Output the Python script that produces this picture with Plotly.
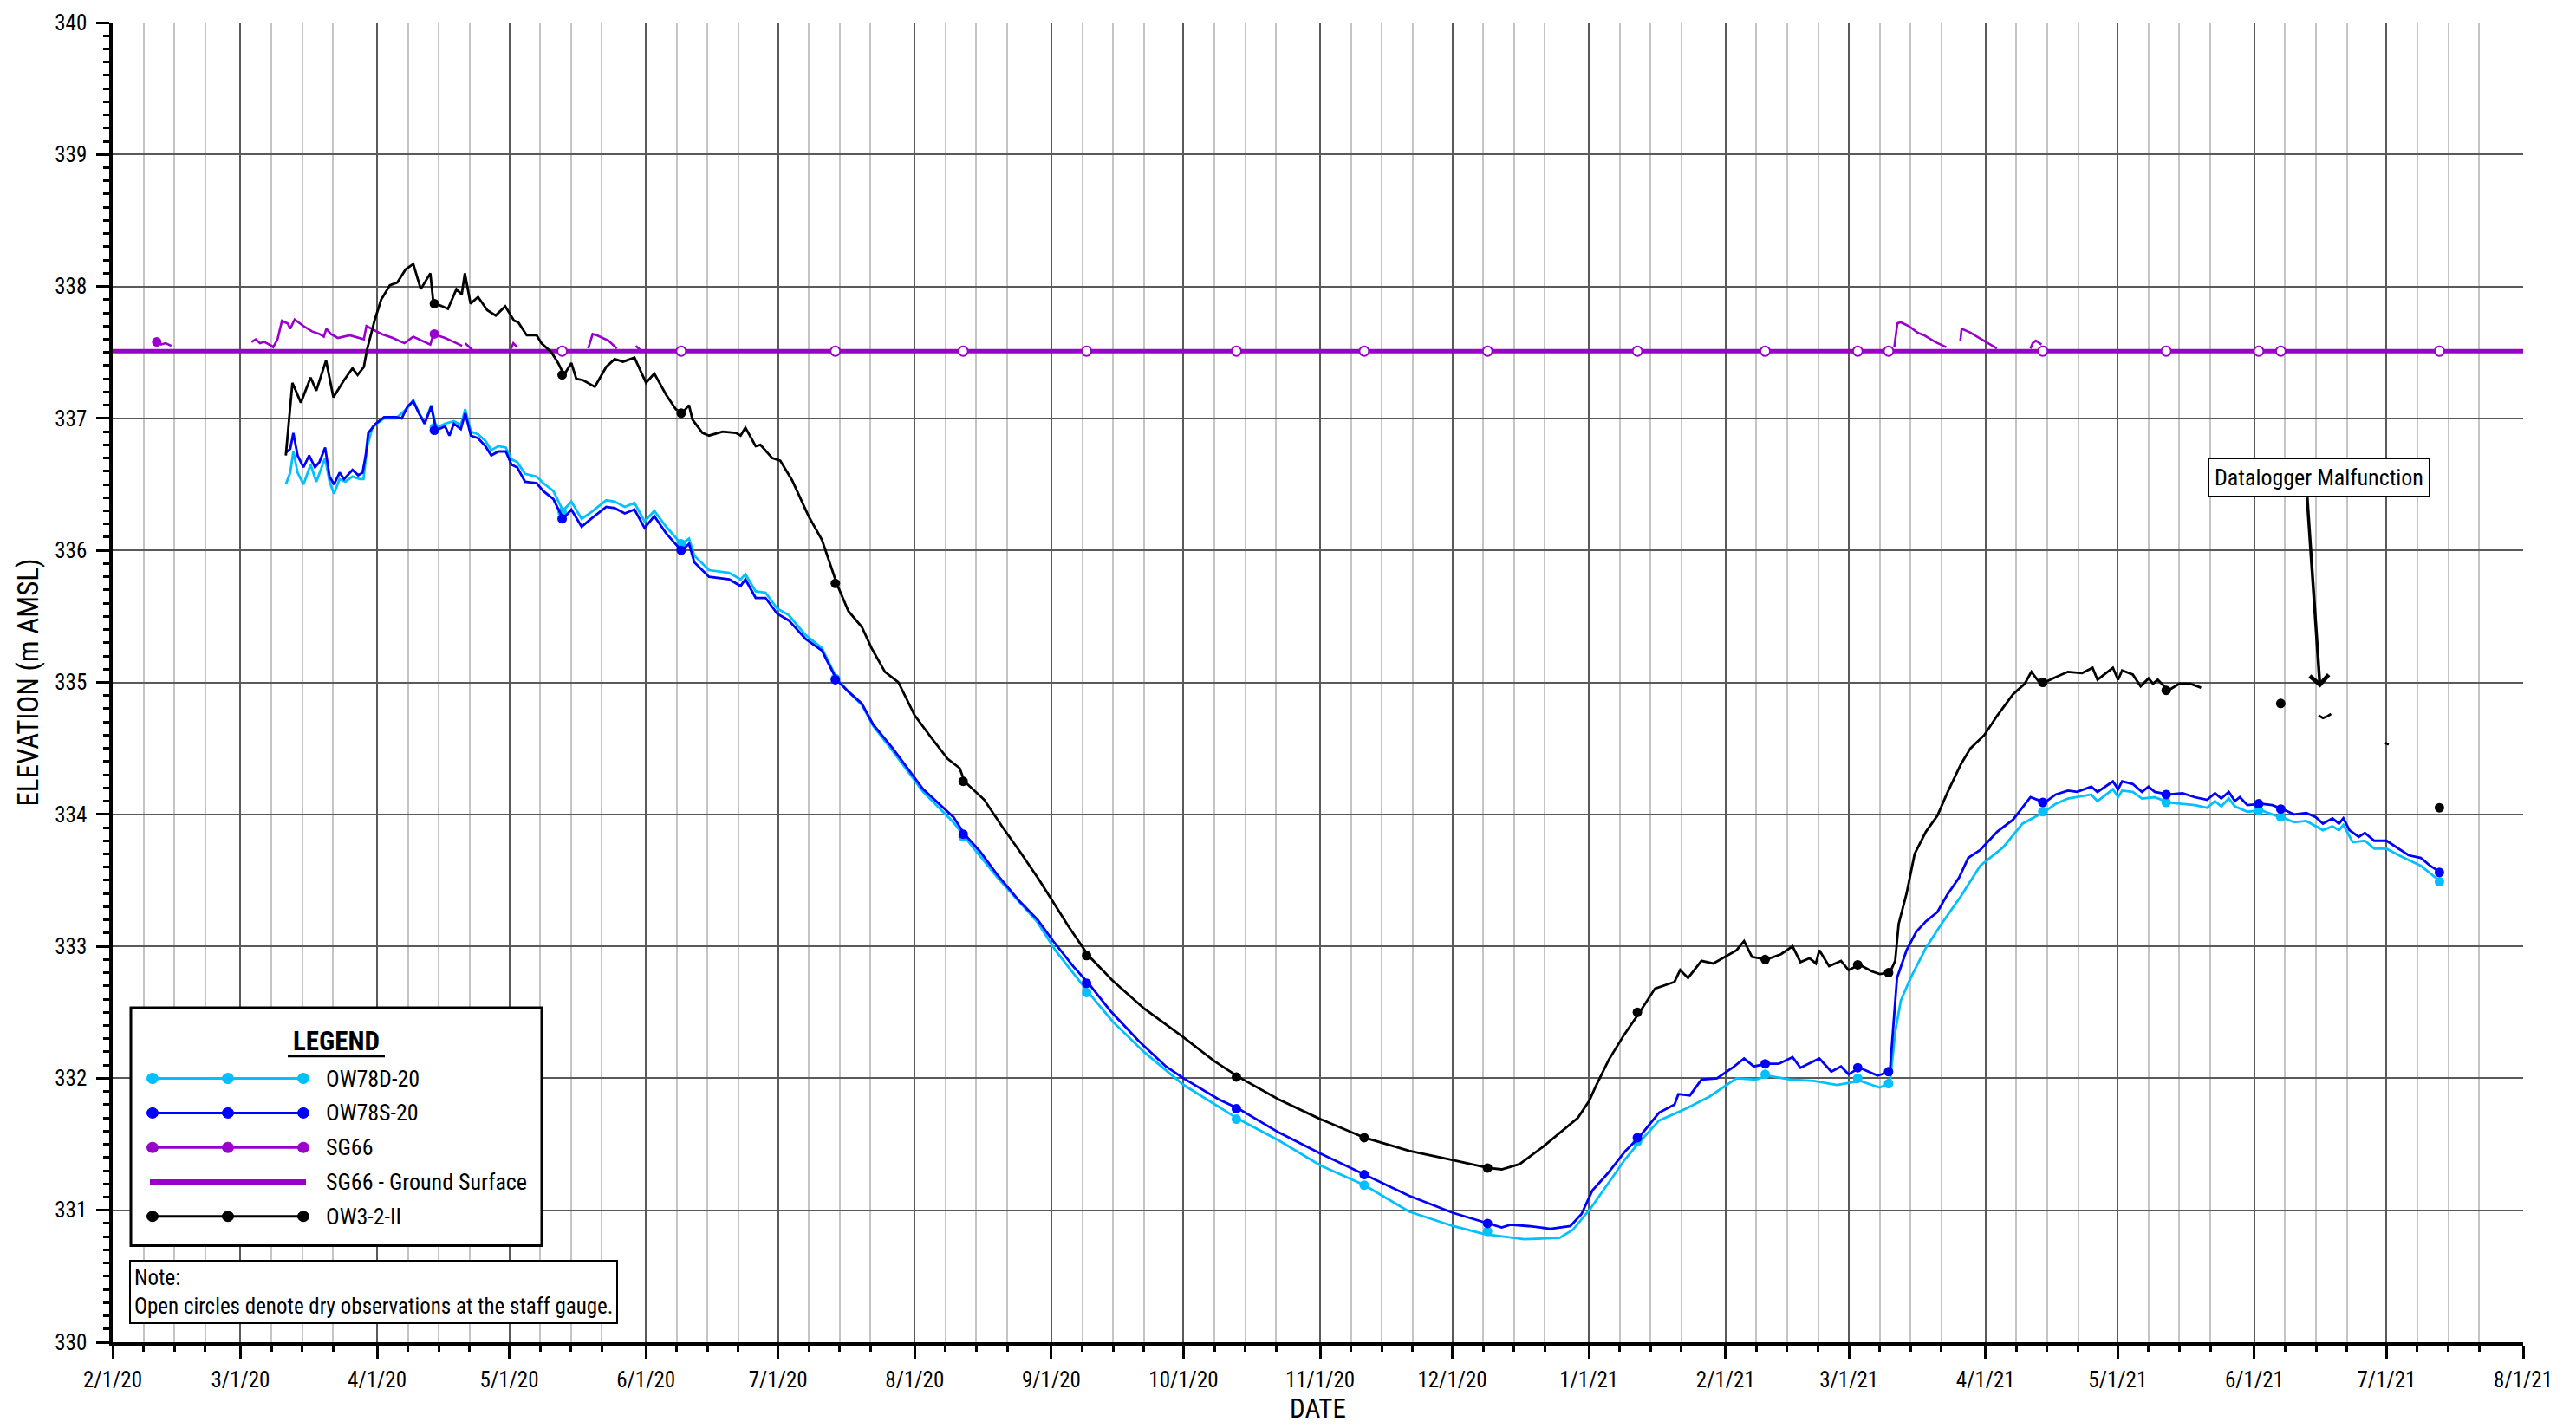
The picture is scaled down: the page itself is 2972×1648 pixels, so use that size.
import plotly.graph_objects as go
import pandas as pd

FONT = "Liberation Sans Narrow, Arial Narrow, Roboto Condensed, DejaVu Sans Condensed, Liberation Sans, sans-serif"

CYAN = "#00C0FF"
BLUE = "#0000FF"
PURPLE = "#9900CC"
BLACK = "#000000"

X_RANGE = ["2020-02-01", "2021-08-01"]
Y_RANGE = [330, 340]
GROUND_ELEV = 337.51

# ---------------- manual (staff gauge / tape) observations ----------------
WELL_OBS_DATES = ["2020-04-14", "2020-05-13", "2020-06-09", "2020-07-14", "2020-08-12", "2020-09-09",
                  "2020-10-13", "2020-11-11", "2020-12-09", "2021-01-12", "2021-02-10", "2021-03-03",
                  "2021-03-10", "2021-04-14", "2021-05-12", "2021-06-02", "2021-06-07", "2021-07-13"]
OW3_MANUAL = [337.87, 337.33, 337.04, 335.75, 334.25, 332.93, 332.01, 331.55, 331.32, 332.50, 332.90, 332.86,
              332.80, 335.00, 334.94, None, 334.84, 334.05]
OW78S_MANUAL = [336.91, 336.24, 336.00, 335.02, 333.85, 332.72, 331.77, 331.27, 330.90, 331.55, 332.11, 332.08,
                332.05, 334.09, 334.15, 334.08, 334.04, 333.56]
OW78D_MANUAL = [336.93, 336.29, 336.05, 335.03, 333.83, 332.65, 331.69, 331.19, 330.84, 331.52, 332.03, 332.00,
                331.96, 334.02, 334.09, 334.03, 333.98, 333.49]

SG66_WET_DATES = ["2020-02-11", "2020-04-14"]
SG66_WET = [337.58, 337.64]
SG66_DRY_DATES = ["2020-05-13", "2020-06-09", "2020-07-14", "2020-08-12", "2020-09-09", "2020-10-13",
                  "2020-11-11", "2020-12-09", "2021-01-12", "2021-02-10", "2021-03-03", "2021-03-10",
                  "2021-04-14", "2021-05-12", "2021-06-02", "2021-06-07", "2021-07-13"]

# ---------------- datalogger records ----------------
OW3_TIME = [
    "2020-03-11 07:00", "2020-03-12 19:00", "2020-03-14 17:00", "2020-03-16 22:00", "2020-03-18 05:00", "2020-03-20 10:00",
    "2020-03-22 02:00", "2020-03-24 12:00", "2020-03-26 10:00", "2020-03-27 14:00", "2020-03-29 00:00", "2020-03-29 17:00",
    "2020-03-31 10:00", "2020-04-01 22:00", "2020-04-03 22:00", "2020-04-05 14:00", "2020-04-07 12:00", "2020-04-09 05:00",
    "2020-04-10 22:00", "2020-04-13 02:00", "2020-04-13 19:00", "2020-04-14 10:00", "2020-04-17 02:00", "2020-04-19 00:00",
    "2020-04-20 05:00", "2020-04-20 22:00", "2020-04-22 05:00", "2020-04-23 22:00", "2020-04-26 00:00", "2020-04-27 22:00",
    "2020-04-30 02:00", "2020-05-02 02:00", "2020-05-03 00:00", "2020-05-04 23:00", "2020-05-07 05:00", "2020-05-08 07:00",
    "2020-05-10 14:00", "2020-05-12 02:00", "2020-05-13 10:00", "2020-05-15 02:00", "2020-05-16 05:00", "2020-05-17 18:00",
    "2020-05-20 10:00", "2020-05-23 00:00", "2020-05-24 22:00", "2020-05-26 19:00", "2020-05-29 10:00", "2020-06-01 01:00",
    "2020-06-02 22:00", "2020-06-05 14:00", "2020-06-07 19:00", "2020-06-09 05:00", "2020-06-10 19:00", "2020-06-11 14:00",
    "2020-06-13 20:00", "2020-06-15 08:00", "2020-06-18 10:00", "2020-06-21 10:00", "2020-06-22 12:00", "2020-06-23 14:00",
    "2020-06-25 22:00", "2020-06-27 00:00", "2020-06-29 16:00", "2020-07-01 12:00", "2020-07-04 05:00", "2020-07-07 22:00",
    "2020-07-10 23:00", "2020-07-14 07:00", "2020-07-16 23:00", "2020-07-20 00:00", "2020-07-22 05:00", "2020-07-25 06:00",
    "2020-07-28 07:00", "2020-08-01 00:00", "2020-08-04 19:00", "2020-08-08 12:00", "2020-08-11 05:00", "2020-08-12 07:00",
    "2020-08-16 19:00", "2020-08-20 19:00", "2020-08-24 20:00", "2020-08-28 22:00", "2020-09-01 22:00", "2020-09-04 22:00",
    "2020-09-09 10:00", "2020-09-14 22:00", "2020-09-22 00:00", "2020-10-01 00:00", "2020-10-08 00:00", "2020-10-13 12:00",
    "2020-10-22 14:00", "2020-11-01 02:00", "2020-11-11 02:00", "2020-11-21 05:00", "2020-12-01 05:00", "2020-12-09 05:00",
    "2020-12-12 05:00", "2020-12-16 07:00", "2020-12-21 13:00", "2020-12-25 02:00", "2020-12-29 12:00", "2021-01-01 02:00",
    "2021-01-02 10:00", "2021-01-05 12:00", "2021-01-09 00:00", "2021-01-12 12:00", "2021-01-16 00:00", "2021-01-20 10:00",
    "2021-01-21 17:00", "2021-01-23 12:00", "2021-01-26 13:00", "2021-01-29 05:00", "2021-01-31 19:00", "2021-02-03 12:00",
    "2021-02-05 05:00", "2021-02-07 00:00", "2021-02-10 07:00", "2021-02-13 14:00", "2021-02-16 05:00", "2021-02-18 00:00",
    "2021-02-20 02:00", "2021-02-21 12:00", "2021-02-22 07:00", "2021-02-24 12:00", "2021-02-27 05:00", "2021-02-28 22:00",
    "2021-03-03 10:00", "2021-03-06 05:00", "2021-03-08 00:00", "2021-03-10 07:00", "2021-03-11 12:00", "2021-03-12 07:00",
    "2021-03-14 02:00", "2021-03-15 22:00", "2021-03-18 12:00", "2021-03-21 02:00", "2021-03-23 07:00", "2021-03-26 10:00",
    "2021-03-28 14:00", "2021-03-31 17:00", "2021-04-03 17:00", "2021-04-07 06:00", "2021-04-09 22:00", "2021-04-11 10:00",
    "2021-04-13 00:00", "2021-04-14 10:00", "2021-04-16 22:00", "2021-04-19 17:00", "2021-04-22 22:00", "2021-04-25 07:00",
    "2021-04-26 10:00", "2021-04-29 22:00", "2021-05-01 02:00", "2021-05-02 00:00", "2021-05-04 10:00", "2021-05-06 05:00",
    "2021-05-08 00:00", "2021-05-09 00:00", "2021-05-10 02:00", "2021-05-12 12:00", "2021-05-15 00:00", "2021-05-17 10:00",
    "2021-05-19 22:00", None,
    "2021-06-15 14:00", "2021-06-16 14:00", "2021-06-17 10:00", "2021-06-18 10:00", None,
    "2021-06-30 17:00", "2021-07-01 12:00",
]
OW3_ELEV = [
    336.72, 337.27, 337.12, 337.31, 337.21, 337.44,
    337.16, 337.29, 337.38, 337.33, 337.39, 337.52,
    337.74, 337.90, 338.01, 338.03, 338.13, 338.17,
    337.98, 338.10, 337.87, 337.87, 337.83, 337.98,
    337.94, 338.10, 337.87, 337.92, 337.82, 337.78,
    337.85, 337.74, 337.73, 337.63, 337.63, 337.57,
    337.50, 337.42, 337.33, 337.42, 337.30, 337.29,
    337.24, 337.39, 337.45, 337.43, 337.46, 337.27,
    337.34, 337.18, 337.07, 337.04, 337.10, 336.99,
    336.89, 336.87, 336.90, 336.89, 336.87, 336.93,
    336.79, 336.80, 336.70, 336.68, 336.53, 336.26,
    336.08, 335.75, 335.54, 335.42, 335.26, 335.08,
    335.00, 334.75, 334.58, 334.42, 334.35, 334.25,
    334.11, 333.91, 333.72, 333.52, 333.31, 333.15,
    332.93, 332.74, 332.53, 332.31, 332.13, 332.01,
    331.84, 331.69, 331.55, 331.45, 331.38, 331.32,
    331.31, 331.35, 331.48, 331.58, 331.70, 331.83,
    331.93, 332.14, 332.33, 332.50, 332.68, 332.73,
    332.82, 332.76, 332.89, 332.87, 332.92, 332.97,
    333.04, 332.92, 332.90, 332.94, 333.00, 332.88,
    332.91, 332.87, 332.97, 332.85, 332.89, 332.82,
    332.86, 332.81, 332.79, 332.80, 332.89, 333.17,
    333.40, 333.70, 333.87, 333.99, 334.16, 334.38,
    334.50, 334.60, 334.75, 334.91, 334.99, 335.08,
    335.01, 335.00, 335.04, 335.08, 335.07, 335.11,
    335.02, 335.11, 335.02, 335.09, 335.06, 334.97,
    335.03, 334.99, 335.02, 334.94, 334.99, 334.99,
    334.96, None,
    334.75, 334.73, 334.74, 334.76, None,
    334.54, 334.53,
]

OW78S_TIME = [
    "2020-03-11 07:00", "2020-03-12 07:00", "2020-03-13 00:00", "2020-03-13 23:00", "2020-03-15 07:00", "2020-03-16 14:00",
    "2020-03-17 22:00", "2020-03-18 22:00", "2020-03-20 05:00", "2020-03-21 05:00", "2020-03-22 05:00", "2020-03-23 12:00",
    "2020-03-24 12:00", "2020-03-26 10:00", "2020-03-27 17:00", "2020-03-28 17:00", "2020-03-29 10:00", "2020-03-30 00:00",
    "2020-03-31 17:00", "2020-04-02 14:00", "2020-04-05 07:00", "2020-04-06 14:00", "2020-04-07 22:00", "2020-04-09 05:00",
    "2020-04-10 12:00", "2020-04-11 19:00", "2020-04-13 07:00", "2020-04-14 10:00", "2020-04-16 10:00", "2020-04-17 10:00",
    "2020-04-18 10:00", "2020-04-20 00:00", "2020-04-21 00:00", "2020-04-22 07:00", "2020-04-23 22:00", "2020-04-25 14:00",
    "2020-04-26 22:00", "2020-04-28 12:00", "2020-04-30 05:00", "2020-05-01 12:00", "2020-05-02 19:00", "2020-05-04 14:00",
    "2020-05-07 05:00", "2020-05-08 17:00", "2020-05-11 00:00", "2020-05-13 05:00", "2020-05-15 02:00", "2020-05-17 10:00",
    "2020-05-19 14:00", "2020-05-23 00:00", "2020-05-24 22:00", "2020-05-27 05:00", "2020-05-29 10:00", "2020-05-31 17:00",
    "2020-06-02 22:00", "2020-06-05 14:00", "2020-06-08 05:00", "2020-06-09 05:00", "2020-06-10 19:00", "2020-06-12 00:00",
    "2020-06-15 08:00", "2020-06-19 22:00", "2020-06-22 12:00", "2020-06-23 14:00", "2020-06-25 22:00", "2020-06-28 04:00",
    "2020-06-30 19:00", "2020-07-03 10:00", "2020-07-07 05:00", "2020-07-10 23:00", "2020-07-14 07:00", "2020-07-16 23:00",
    "2020-07-20 00:00", "2020-07-22 14:00", "2020-07-26 19:00", "2020-08-01 00:00", "2020-08-02 22:00", "2020-08-09 19:00",
    "2020-08-12 07:00", "2020-08-15 19:00", "2020-08-19 19:00", "2020-08-24 20:00", "2020-08-28 22:00", "2020-09-01 10:00",
    "2020-09-05 22:00", "2020-09-09 10:00", "2020-09-14 10:00", "2020-09-20 22:00", "2020-09-27 00:00", "2020-10-01 00:00",
    "2020-10-09 00:00", "2020-10-13 12:00", "2020-10-22 14:00", "2020-11-01 02:00", "2020-11-11 02:00", "2020-11-21 05:00",
    "2020-12-01 05:00", "2020-12-09 05:00", "2020-12-12 05:00", "2020-12-14 05:00", "2020-12-18 07:00", "2020-12-23 07:00",
    "2020-12-27 19:00", "2020-12-30 07:00", "2021-01-01 19:00", "2021-01-05 07:00", "2021-01-09 07:00", "2021-01-12 07:00",
    "2021-01-16 22:00", "2021-01-20 10:00", "2021-01-21 07:00", "2021-01-23 22:00", "2021-01-26 13:00", "2021-01-30 02:00",
    "2021-02-02 14:00", "2021-02-05 05:00", "2021-02-07 10:00", "2021-02-10 07:00", "2021-02-13 02:00", "2021-02-16 05:00",
    "2021-02-18 00:00", "2021-02-22 07:00", "2021-02-25 00:00", "2021-02-27 05:00", "2021-02-28 22:00", "2021-03-03 10:00",
    "2021-03-07 12:00", "2021-03-10 07:00", "2021-03-11 00:00", "2021-03-11 22:00", "2021-03-14 02:00", "2021-03-16 07:00",
    "2021-03-18 12:00", "2021-03-21 02:00", "2021-03-23 07:00", "2021-03-26 00:00", "2021-03-28 02:00", "2021-03-30 19:00",
    "2021-04-03 17:00", "2021-04-07 06:00", "2021-04-11 05:00", "2021-04-14 10:00", "2021-04-16 22:00", "2021-04-19 17:00",
    "2021-04-21 19:00", "2021-04-25 00:00", "2021-04-26 10:00", "2021-04-29 22:00", "2021-05-01 02:00", "2021-05-02 00:00",
    "2021-05-04 10:00", "2021-05-06 12:00", "2021-05-08 00:00", "2021-05-09 10:00", "2021-05-12 12:00", "2021-05-15 17:00",
    "2021-05-18 12:00", "2021-05-21 07:00", "2021-05-23 02:00", "2021-05-24 12:00", "2021-05-26 05:00", "2021-05-27 14:00",
    "2021-05-28 17:00", "2021-05-30 10:00", "2021-06-02 14:00", "2021-06-05 02:00", "2021-06-07 10:00", "2021-06-10 00:00",
    "2021-06-12 19:00", "2021-06-14 22:00", "2021-06-16 14:00", "2021-06-18 17:00", "2021-06-20 05:00", "2021-06-21 05:00",
    "2021-06-22 14:00", "2021-06-24 17:00", "2021-06-26 02:00", "2021-06-28 05:00", "2021-07-01 00:00", "2021-07-03 19:00",
    "2021-07-06 00:00", "2021-07-08 19:00", "2021-07-10 22:00", "2021-07-13 07:00",
]
OW78S_ELEV = [
    336.74, 336.77, 336.89, 336.72, 336.63, 336.72,
    336.63, 336.67, 336.78, 336.56, 336.50, 336.59,
    336.54, 336.61, 336.57, 336.59, 336.72, 336.89,
    336.96, 337.01, 337.01, 337.00, 337.09, 337.13,
    337.04, 336.96, 337.09, 336.91, 336.94, 336.87,
    336.96, 336.92, 337.04, 336.87, 336.85, 336.79,
    336.72, 336.75, 336.75, 336.65, 336.63, 336.52,
    336.51, 336.45, 336.39, 336.24, 336.31, 336.18,
    336.24, 336.33, 336.32, 336.28, 336.31, 336.17,
    336.26, 336.13, 336.03, 336.00, 336.05, 335.91,
    335.80, 335.78, 335.73, 335.78, 335.64, 335.64,
    335.52, 335.47, 335.33, 335.24, 335.02, 334.93,
    334.84, 334.68, 334.51, 334.28, 334.19, 333.98,
    333.85, 333.72, 333.54, 333.34, 333.20, 333.04,
    332.85, 332.72, 332.51, 332.28, 332.09, 332.00,
    331.84, 331.77, 331.59, 331.43, 331.27, 331.11,
    330.98, 330.90, 330.87, 330.89, 330.88, 330.86,
    330.88, 330.97, 331.15, 331.28, 331.45, 331.55,
    331.74, 331.80, 331.88, 331.87, 331.99, 332.00,
    332.08, 332.15, 332.09, 332.11, 332.11, 332.16,
    332.08, 332.15, 332.05, 332.09, 332.03, 332.08,
    332.02, 332.05, 332.36, 332.76, 332.97, 333.11,
    333.19, 333.26, 333.39, 333.52, 333.67, 333.73,
    333.87, 333.96, 334.13, 334.09, 334.15, 334.18,
    334.17, 334.21, 334.17, 334.25, 334.19, 334.25,
    334.23, 334.17, 334.21, 334.17, 334.15, 334.16,
    334.13, 334.11, 334.16, 334.12, 334.17, 334.10,
    334.13, 334.07, 334.08, 334.07, 334.04, 334.00,
    334.01, 333.98, 333.93, 333.97, 333.93, 333.97,
    333.88, 333.83, 333.86, 333.80, 333.80, 333.74,
    333.69, 333.67, 333.61, 333.56,
]

OW78D_TIME = [
    "2020-03-11 07:00", "2020-03-12 07:00", "2020-03-13 00:00", "2020-03-13 23:00", "2020-03-15 07:00", "2020-03-16 22:00",
    "2020-03-18 05:00", "2020-03-20 05:00", "2020-03-21 05:00", "2020-03-22 05:00", "2020-03-23 12:00", "2020-03-24 19:00",
    "2020-03-26 10:00", "2020-03-28 02:00", "2020-03-28 22:00", "2020-03-29 17:00", "2020-03-31 00:00", "2020-04-02 14:00",
    "2020-04-05 07:00", "2020-04-07 22:00", "2020-04-09 05:00", "2020-04-10 12:00", "2020-04-11 19:00", "2020-04-13 07:00",
    "2020-04-14 10:00", "2020-04-16 10:00", "2020-04-18 10:00", "2020-04-20 00:00", "2020-04-21 00:00", "2020-04-22 07:00",
    "2020-04-23 22:00", "2020-04-25 14:00", "2020-04-26 22:00", "2020-04-28 12:00", "2020-04-30 05:00", "2020-05-01 12:00",
    "2020-05-02 19:00", "2020-05-04 14:00", "2020-05-07 05:00", "2020-05-08 17:00", "2020-05-11 00:00", "2020-05-13 05:00",
    "2020-05-15 02:00", "2020-05-17 10:00", "2020-05-19 14:00", "2020-05-23 00:00", "2020-05-24 22:00", "2020-05-27 05:00",
    "2020-05-29 10:00", "2020-05-31 17:00", "2020-06-02 22:00", "2020-06-05 14:00", "2020-06-08 05:00", "2020-06-09 05:00",
    "2020-06-10 19:00", "2020-06-12 00:00", "2020-06-15 08:00", "2020-06-19 22:00", "2020-06-22 12:00", "2020-06-23 14:00",
    "2020-06-25 22:00", "2020-06-28 04:00", "2020-06-30 19:00", "2020-07-03 10:00", "2020-07-07 05:00", "2020-07-10 23:00",
    "2020-07-14 07:00", "2020-07-16 23:00", "2020-07-20 00:00", "2020-07-22 14:00", "2020-07-26 19:00", "2020-08-01 00:00",
    "2020-08-02 22:00", "2020-08-09 19:00", "2020-08-12 07:00", "2020-08-19 19:00", "2020-08-28 22:00", "2020-09-01 22:00",
    "2020-09-09 10:00", "2020-09-14 22:00", "2020-09-22 00:00", "2020-10-01 00:00", "2020-10-13 12:00", "2020-10-22 14:00",
    "2020-11-01 02:00", "2020-11-11 02:00", "2020-11-21 05:00", "2020-12-01 05:00", "2020-12-08 05:00", "2020-12-17 07:00",
    "2020-12-25 07:00", "2020-12-28 07:00", "2021-01-01 07:00", "2021-01-05 07:00", "2021-01-09 07:00", "2021-01-12 07:00",
    "2021-01-16 22:00", "2021-01-23 00:00", "2021-01-28 07:00", "2021-02-03 12:00", "2021-02-07 22:00", "2021-02-10 12:00",
    "2021-02-15 19:00", "2021-02-21 00:00", "2021-02-26 07:00", "2021-03-03 14:00", "2021-03-07 22:00", "2021-03-10 07:00",
    "2021-03-11 12:00", "2021-03-12 19:00", "2021-03-15 00:00", "2021-03-18 12:00", "2021-03-22 00:00", "2021-03-26 10:00",
    "2021-03-30 19:00", "2021-04-05 00:00", "2021-04-09 10:00", "2021-04-14 10:00", "2021-04-16 22:00", "2021-04-19 17:00",
    "2021-04-25 00:00", "2021-04-26 10:00", "2021-04-29 22:00", "2021-05-01 02:00", "2021-05-02 00:00", "2021-05-04 10:00",
    "2021-05-06 12:00", "2021-05-09 10:00", "2021-05-12 12:00", "2021-05-18 12:00", "2021-05-21 07:00", "2021-05-23 02:00",
    "2021-05-24 12:00", "2021-05-26 05:00", "2021-05-27 14:00", "2021-05-30 10:00", "2021-06-02 14:00", "2021-06-05 02:00",
    "2021-06-07 22:00", "2021-06-10 00:00", "2021-06-12 19:00", "2021-06-16 14:00", "2021-06-18 17:00", "2021-06-20 05:00",
    "2021-06-21 05:00", "2021-06-23 07:00", "2021-06-26 02:00", "2021-06-28 05:00", "2021-07-01 00:00", "2021-07-03 19:00",
    "2021-07-08 19:00", "2021-07-13 07:00",
]
OW78D_ELEV = [
    336.50, 336.59, 336.75, 336.59, 336.50, 336.65,
    336.52, 336.70, 336.52, 336.43, 336.54, 336.52,
    336.56, 336.54, 336.54, 336.78, 336.94, 337.00,
    337.00, 337.08, 337.14, 337.04, 336.97, 337.10,
    336.93, 336.96, 336.98, 336.95, 337.07, 336.90,
    336.88, 336.83, 336.76, 336.79, 336.78, 336.69,
    336.67, 336.58, 336.56, 336.51, 336.45, 336.30,
    336.37, 336.24, 336.29, 336.38, 336.37, 336.33,
    336.36, 336.22, 336.30, 336.18, 336.08, 336.05,
    336.09, 335.96, 335.85, 335.83, 335.78, 335.82,
    335.69, 335.68, 335.56, 335.51, 335.36, 335.26,
    335.03, 334.93, 334.83, 334.67, 334.49, 334.26,
    334.17, 333.94, 333.83, 333.52, 333.18, 332.97,
    332.65, 332.43, 332.20, 331.95, 331.69, 331.53,
    331.34, 331.19, 330.99, 330.88, 330.82, 330.78,
    330.79, 330.85, 331.01, 331.20, 331.39, 331.51,
    331.68, 331.77, 331.86, 332.00, 331.99, 332.02,
    331.99, 331.98, 331.95, 331.98, 331.93, 331.96,
    332.35, 332.59, 332.76, 332.99, 333.17, 333.38,
    333.61, 333.75, 333.93, 334.02, 334.08, 334.12,
    334.15, 334.10, 334.19, 334.13, 334.18, 334.17,
    334.12, 334.13, 334.09, 334.07, 334.05, 334.10,
    334.06, 334.12, 334.06, 334.02, 334.03, 334.00,
    333.97, 333.94, 333.95, 333.88, 333.91, 333.88,
    333.92, 333.79, 333.80, 333.74, 333.74, 333.69,
    333.61, 333.49,
]

SG66_TIME = [
    "2020-02-11 05:00", "2020-02-12 00:00", "2020-02-13 00:00", "2020-02-14 08:00", None,
    "2020-03-03 12:00", "2020-03-04 12:00", "2020-03-05 10:00", "2020-03-06 10:00", "2020-03-08 02:00", "2020-03-08 10:00",
    "2020-03-09 10:00", "2020-03-10 10:00", "2020-03-11 17:00", "2020-03-12 07:00", "2020-03-13 07:00", "2020-03-15 07:00",
    "2020-03-17 05:00", "2020-03-18 22:00", "2020-03-19 22:00", "2020-03-20 12:00", "2020-03-21 12:00", "2020-03-23 02:00",
    "2020-03-25 19:00", "2020-03-27 17:00", "2020-03-29 00:00", "2020-03-29 14:00", "2020-03-30 17:00", "2020-04-02 00:00",
    "2020-04-04 14:00", "2020-04-07 05:00", "2020-04-09 05:00", "2020-04-11 05:00", "2020-04-13 02:00", "2020-04-13 19:00",
    "2020-04-16 10:00", "2020-04-18 10:00", "2020-04-20 07:00", None,
    "2020-04-21 00:00", "2020-04-22 14:00", None,
    "2020-05-01 10:00", "2020-05-01 22:00", "2020-05-02 19:00", None,
    "2020-05-18 22:00", "2020-05-19 22:00", "2020-05-20 22:00", "2020-05-23 12:00", "2020-05-25 10:00", None,
    "2020-05-29 17:00", "2020-05-30 17:00", None,
    "2021-03-11 07:00", "2021-03-12 00:00", "2021-03-12 17:00", "2021-03-14 14:00", "2021-03-16 14:00", "2021-03-18 02:00",
    "2021-03-20 14:00", "2021-03-23 02:00", None,
    "2021-03-26 07:00", "2021-03-26 14:00", "2021-03-28 14:00", "2021-03-31 14:00", "2021-04-03 14:00", None,
    "2021-04-11 05:00", "2021-04-11 17:00", "2021-04-12 10:00", "2021-04-13 17:00",
]
SG66_ELEV = [
    337.58, 337.56, 337.57, 337.55, None,
    337.58, 337.60, 337.57, 337.58, 337.55, 337.54,
    337.60, 337.74, 337.72, 337.68, 337.75, 337.70,
    337.66, 337.64, 337.62, 337.68, 337.64, 337.61,
    337.63, 337.61, 337.60, 337.70, 337.68, 337.64,
    337.61, 337.57, 337.62, 337.59, 337.56, 337.64,
    337.61, 337.58, 337.55, None,
    337.57, 337.52, None,
    337.53, 337.57, 337.54, None,
    337.53, 337.64, 337.63, 337.59, 337.53, None,
    337.55, 337.52, None,
    337.54, 337.72, 337.73, 337.70, 337.65, 337.63,
    337.58, 337.54, None,
    337.59, 337.68, 337.65, 337.59, 337.53, None,
    337.53, 337.57, 337.59, 337.56,
]

LEGEND_ITEMS = [
    ("OW78D-20", CYAN, "series"),
    ("OW78S-20", BLUE, "series"),
    ("SG66", PURPLE, "series"),
    ("SG66 - Ground Surface", PURPLE, "surface"),
    ("OW3-2-II", BLACK, "series"),
]
NOTE_TEXT = "Note:<br>Open circles denote dry observations at the staff gauge."
MALFUNCTION_TEXT = "Datalogger Malfunction"

# ---------------- figure ----------------
fig = go.Figure()

fig.add_trace(go.Scatter(x=X_RANGE, y=[GROUND_ELEV, GROUND_ELEV], mode="lines",
                         line=dict(color=PURPLE, width=5), hoverinfo="skip"))


def add_well(times, elev, obs_dates, obs_vals, color):
    fig.add_trace(go.Scatter(x=times, y=elev, mode="lines", line=dict(color=color, width=2.8),
                             connectgaps=False))
    fig.add_trace(go.Scatter(x=obs_dates, y=obs_vals, mode="markers",
                             marker=dict(color=color, size=11, line=dict(width=0))))


add_well(OW78D_TIME, OW78D_ELEV, WELL_OBS_DATES, OW78D_MANUAL, CYAN)
add_well(OW78S_TIME, OW78S_ELEV, WELL_OBS_DATES, OW78S_MANUAL, BLUE)

fig.add_trace(go.Scatter(x=SG66_TIME, y=SG66_ELEV, mode="lines", line=dict(color=PURPLE, width=2.6),
                         connectgaps=False))
fig.add_trace(go.Scatter(x=SG66_WET_DATES, y=SG66_WET, mode="markers",
                         marker=dict(color=PURPLE, size=11, line=dict(width=0))))
fig.add_trace(go.Scatter(x=SG66_DRY_DATES, y=[GROUND_ELEV] * len(SG66_DRY_DATES), mode="markers",
                         marker=dict(color="white", size=11, line=dict(color=PURPLE, width=2))))

add_well(OW3_TIME, OW3_ELEV, WELL_OBS_DATES, OW3_MANUAL, BLACK)

# weekly minor ticks on the 8th, 15th and 22nd of each month
minor_x = [d.strftime("%Y-%m-%d") for d in pd.date_range(X_RANGE[0], X_RANGE[1], freq="D")
           if d.day in (8, 15, 22)]

# plot-area geometry (pixels) for placing the legend and note boxes
PL, PT, PW, PH = 130, 21, 2781, 1531


def px(x):
    return (x - PL) / PW


def py(y):
    return (PT + PH - y) / PH


shapes = []
annotations = []

# legend box
shapes.append(dict(type="rect", xref="paper", yref="paper", x0=px(151), x1=px(625), y0=py(1440), y1=py(1164),
                   fillcolor="white", line=dict(color="black", width=3), layer="above"))
annotations.append(dict(xref="paper", yref="paper", x=px(388), y=py(1203), text="<b>LEGEND</b>",
                        showarrow=False, xanchor="center", yanchor="middle", font=dict(size=31)))
shapes.append(dict(type="line", xref="paper", yref="paper", x0=px(332), x1=px(444), y0=py(1220), y1=py(1220),
                   line=dict(color="black", width=3), layer="above"))
for i, (label, color, kind) in enumerate(LEGEND_ITEMS):
    yy = 1246 + 40 * i
    if kind == "surface":
        shapes.append(dict(type="line", xref="paper", yref="paper", x0=px(173), x1=px(353), y0=py(yy), y1=py(yy),
                           line=dict(color=color, width=6), layer="above"))
    else:
        shapes.append(dict(type="line", xref="paper", yref="paper", x0=px(176), x1=px(350), y0=py(yy), y1=py(yy),
                           line=dict(color=color, width=3), layer="above"))
        for mx in (176, 263, 350):
            shapes.append(dict(type="circle", xref="paper", yref="paper", xsizemode="pixel", ysizemode="pixel",
                               xanchor=px(mx), yanchor=py(yy), x0=-6.5, x1=6.5, y0=-6, y1=6,
                               fillcolor=color, line=dict(color=color, width=1), layer="above"))
    annotations.append(dict(xref="paper", yref="paper", x=px(374), y=py(yy), text=label, showarrow=False,
                            xanchor="left", yanchor="middle", font=dict(size=26)))

# note box
annotations.append(dict(xref="paper", yref="paper", x=px(149), y=py(1457), text=NOTE_TEXT, showarrow=False,
                        xanchor="left", yanchor="top", align="left", font=dict(size=25),
                        bgcolor="white", bordercolor="black", borderwidth=2, borderpad=4))

# datalogger malfunction callout
annotations.append(dict(x="2021-06-15 14:00", y=336.55, text=MALFUNCTION_TEXT, showarrow=False,
                        xanchor="center", yanchor="middle", font=dict(size=26),
                        bgcolor="white", bordercolor="black", borderwidth=2, borderpad=6))
annotations.append(dict(x="2021-06-15 22:00", y=334.96, text="", showarrow=True, ax=-15, ay=-221,
                        arrowhead=4, arrowsize=1.2, arrowwidth=3.5, arrowcolor="black", standoff=0))

fig.update_layout(
    width=2972, height=1648,
    margin=dict(l=PL, r=2972 - PL - PW, t=PT, b=1648 - PT - PH),
    paper_bgcolor="white", plot_bgcolor="white", showlegend=False,
    font=dict(family=FONT, size=25, color="black"),
    shapes=shapes, annotations=annotations,
    xaxis=dict(
        type="date", range=X_RANGE, tick0="2020-02-01", dtick="M1", tickformat="%-m/%-d/%y",
        ticks="outside", ticklen=15, tickwidth=3, tickcolor="black",
        showline=True, linecolor="black", linewidth=3.5,
        showgrid=True, gridcolor="#5a5a5a", gridwidth=2, zeroline=False,
        tickfont=dict(size=25), ticklabelstandoff=3,
        title=dict(text="DATE", font=dict(size=31), standoff=8),
        minor=dict(tickmode="array", tickvals=minor_x, ticks="outside", ticklen=7, tickwidth=2.5,
                   tickcolor="black", showgrid=True, gridcolor="#c4c4c4", gridwidth=2),
    ),
    yaxis=dict(
        range=Y_RANGE, tick0=330, dtick=1, ticks="outside", ticklen=15, tickwidth=3, tickcolor="black",
        showline=True, linecolor="black", linewidth=3.5,
        showgrid=True, gridcolor="#5a5a5a", gridwidth=2, zeroline=False,
        tickfont=dict(size=25), ticklabelstandoff=6,
        title=dict(text="ELEVATION (m AMSL)", font=dict(size=33), standoff=10),
        minor=dict(tick0=330, dtick=0.1, ticks="outside", ticklen=7, tickwidth=2.5, tickcolor="black",
                   showgrid=False),
    ),
)

fig.write_html("out.html")
